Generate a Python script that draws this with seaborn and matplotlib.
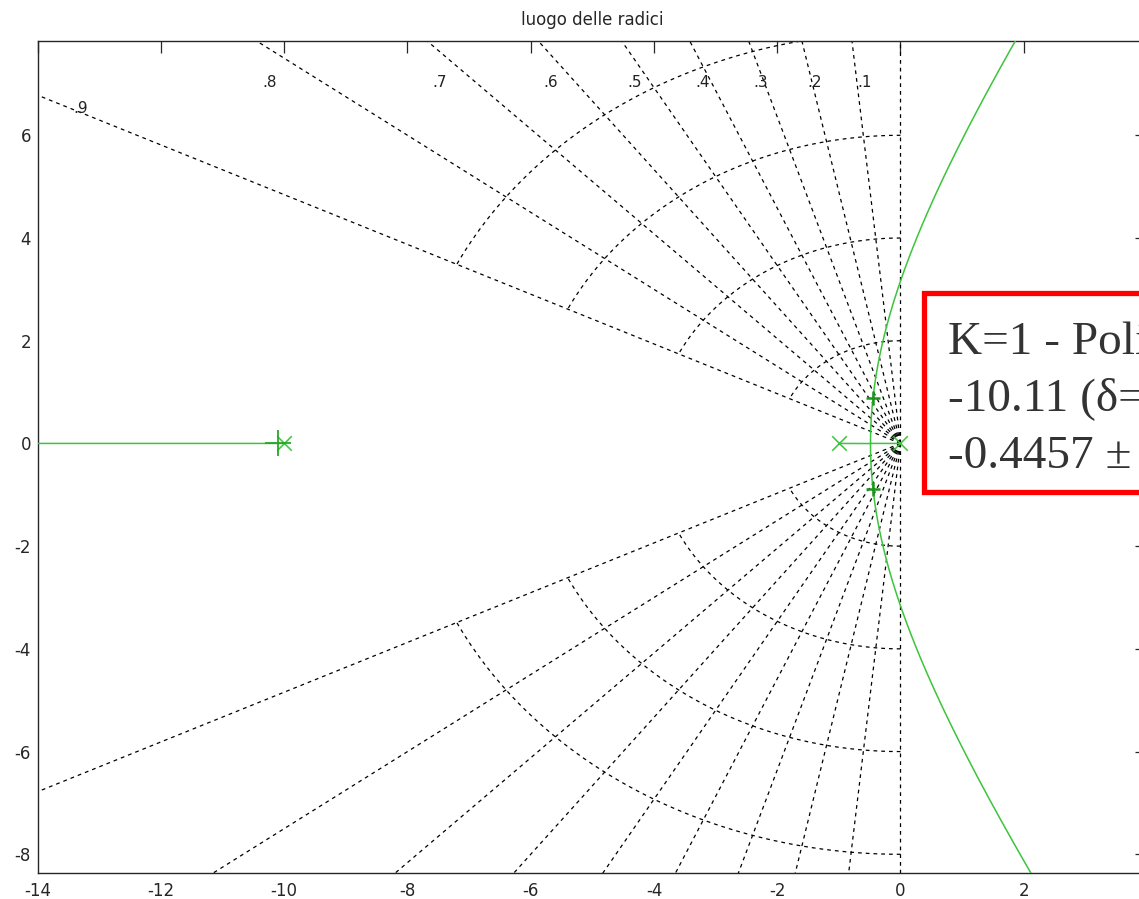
import numpy as np
import matplotlib
matplotlib.use("Agg")
import matplotlib.pyplot as plt
import seaborn as sns

# Open-loop system G(s) = gain / (s (s+1) (s+10))
open_loop_poles = [0.0, -1.0, -10.0]
loop_gain = 10.0
selected_k = 1.0

# s-plane grid: damping ratios and natural-frequency circles
zeta_values = [0.1, 0.2, 0.3, 0.4, 0.5, 0.6, 0.7, 0.8, 0.9]
wn_values = [2, 4, 6, 8]

x_ticks = [-14, -12, -10, -8, -6, -4, -2, 0, 2, 4]
x_tick_labels = ["-14", "-12", "-10", "-8", "-6", "-4", "-2", "0", "2", ""]
y_ticks = [-8, -6, -4, -2, 0, 2, 4, 6]
y_tick_labels = ["-8", "-6", "-4", "-2", "0", "2", "4", "6"]
x_range = (-14.0, 4.0)
y_range = (-8.37, 7.83)

title_text = "luogo delle radici"

sns.set_theme(style="white")
plt.rcParams["font.family"] = ["DejaVu Sans"]
plt.rcParams["axes.unicode_minus"] = False

W, H = 1139, 899
fig = plt.figure(figsize=(W / 100, H / 100), dpi=100)
ax_left, ax_right, ax_top, ax_bottom = 37.7, 1147.0, 41.3, 873.3
ax = fig.add_axes([ax_left / W, (H - ax_bottom) / H,
                   (ax_right - ax_left) / W, (ax_bottom - ax_top) / H])
ax.set_facecolor("white")
ax.set_xlim(*x_range)
ax.set_ylim(*y_range)

grid_kw = dict(color="black", lw=0.9, ls=(0, (3, 3.2)), zorder=1)

# damping-ratio rays (and the imaginary axis, zeta = 0)
far = 60.0
for z in [0.0] + zeta_values:
    wd = np.sqrt(1 - z ** 2)
    for sgn in (1, -1):
        ax.plot([0, -z * far], [0, sgn * wd * far], **grid_kw)

# natural-frequency arcs, from the imaginary axis to the outermost zeta ray
phi_max = np.arccos(max(zeta_values))
for wn in wn_values:
    th = np.linspace(0, np.pi / 2 - phi_max, 200)
    ax.plot(-wn * np.sin(th), wn * np.cos(th), **grid_kw)
    ax.plot(-wn * np.sin(th), -wn * np.cos(th), **grid_kw)

# zeta labels near the frame
for z in zeta_values:
    slope = np.sqrt(1 - z ** 2) / z
    x_hit = -y_range[1] / slope
    if x_hit >= x_range[0]:
        xy, off = (x_hit, y_range[1]), (3.6, -29.5)
    else:
        xy, off = (x_range[0], -x_range[0] * slope), (26.0, -9.4)
    ax.annotate(f"{z:.1f}".lstrip("0"), xy=xy, xytext=off,
                textcoords="offset points", ha="left", va="center",
                fontsize=11, color="#222222", zorder=3)

# root locus: roots of s(s+1)(s+10) + k = 0 over a sweep of k
den = np.poly(open_loop_poles)
gains = np.concatenate([np.linspace(0, 2.3766, 600),
                        2.3766 + np.geomspace(1e-7, 6000, 3000)])
real_branch, up_branch, lo_branch = [], [], []
for k in gains:
    r = np.roots(den + np.r_[0, 0, 0, k])
    r = np.where(np.abs(r.imag) < 1e-9, r.real + 0j, r)
    idx = np.argmin(r.real + np.where(np.abs(r.imag) > 0, 1e6, 0))
    real_branch.append(r[idx])
    rest = np.delete(r, idx)
    if abs(rest[0].imag) > 0:
        up, lo = (rest[0], rest[1]) if rest[0].imag > 0 else (rest[1], rest[0])
    else:
        up, lo = (rest[0], rest[1]) if rest[0].real > rest[1].real else (rest[1], rest[0])
    up_branch.append(up)
    lo_branch.append(lo)

locus_color = "#3cc43c"
for br in (real_branch, up_branch, lo_branch):
    br = np.array(br)
    sns.lineplot(x=br.real, y=br.imag, sort=False, estimator=None,
                 color=locus_color, lw=1.1, ax=ax, zorder=4)

# open-loop poles
sns.scatterplot(x=open_loop_poles, y=[0.0] * len(open_loop_poles), marker="x",
                s=110, color=locus_color, linewidth=1.1, ax=ax, zorder=5)

# closed-loop poles for the selected gain
cl = np.roots(den + np.r_[0, 0, 0, selected_k * loop_gain])
cl_real = cl[np.abs(cl.imag) < 1e-9].real
cl_cplx = cl[np.abs(cl.imag) >= 1e-9]
ax.plot(cl_real, np.zeros_like(cl_real), "+", ms=19, mew=1.3,
        color="#2aa62a", zorder=6)
ax.plot(cl_cplx.real, cl_cplx.imag, "+", ms=10, mew=1.8,
        color="#1e961e", zorder=6)

ax.set_xticks(x_ticks)
ax.set_yticks(y_ticks)
ax.set_xticklabels(x_tick_labels)
ax.set_yticklabels(y_tick_labels)
ax.tick_params(direction="in", length=8.6, width=0.9, colors="#262626",
               top=True, right=True, labelsize=12)
ax.tick_params(axis="y", pad=4.8)
ax.tick_params(axis="x", pad=6)
for sp in ax.spines.values():
    sp.set_color("#262626")
    sp.set_linewidth(1.0)
ax.set_xlabel("")
ax.set_ylabel("")
ax.set_title(title_text, fontsize=12, color="#262626", pad=12)

# closed-loop pole summary box
fig.patches.append(plt.Rectangle((924 / W, (H - 492) / H), 400 / W, 199 / H,
                                 transform=fig.transFigure, fill=True,
                                 facecolor="white", edgecolor="#ff0000",
                                 lw=3.8, zorder=10))
p_real = cl_real[0]
p_c = cl_cplx[np.argmax(cl_cplx.imag)]
zeta_c = -p_c.real / abs(p_c)
lines = [f"K={selected_k:g} - Poli ad anello chiuso:",
         f"{p_real:.4g} (\u03b4=1)",
         f"{p_c.real:.4g} \u00b1 j{p_c.imag:.4g} (\u03b4={zeta_c:.3g})"]
baselines = [354, 410, 468]
for txt, yb in zip(lines, baselines):
    fig.text(948 / W, (H - yb) / H, txt, fontsize=34, color="#333333",
             family=["Liberation Serif", "DejaVu Serif"], va="baseline",
             ha="left", zorder=11)

fig.savefig("out.png", dpi=100)
